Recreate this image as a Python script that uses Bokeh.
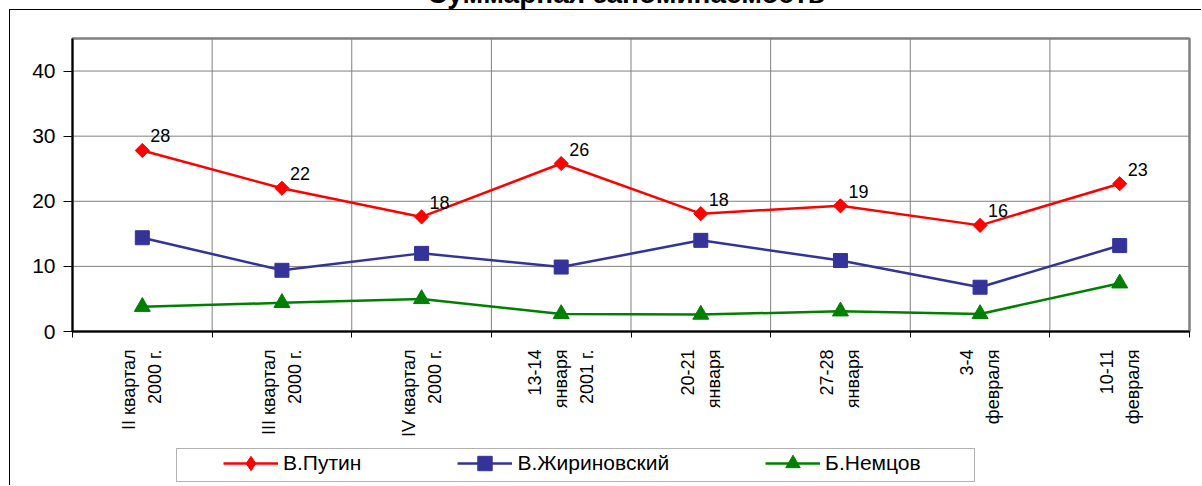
import math
from bokeh.plotting import figure
from bokeh.layouts import column
from bokeh.models import Range1d, FixedTicker, Legend, LegendItem, Div, BoxAnnotation
from bokeh.embed import file_html
from bokeh.resources import INLINE
from bokeh.core.properties import value

title = "Суммарная запоминаемость"
categories = ["II квартал\n2000 г.", "III квартал\n2000 г.", "IV квартал\n2000 г.",
              "13-14\nянваря\n2001 г.", "20-21\nянваря", "27-28\nянваря",
              "3-4\nфевраля", "10-11\nфевраля"]
series_names = ["В.Путин", "В.Жириновский", "Б.Немцов"]
putin = [27.8, 22.0, 17.6, 25.8, 18.1, 19.3, 16.3, 22.7]
zhirinovsky = [14.4, 9.4, 12.0, 9.9, 14.0, 10.9, 6.8, 13.2]
nemtsov = [3.8, 4.4, 5.0, 2.7, 2.6, 3.1, 2.7, 7.4]
y_ticks = [0, 10, 20, 30, 40]
Y_MAX = 45

FONT = "Liberation Sans"
n = len(categories)
xs = [i + 0.5 for i in range(n)]
bounds = list(range(n + 1))

# layout (canvas pixels)
CANVAS_W, CANVAS_H = 1192, 476
AREA_L, AREA_R, AREA_T, AREA_B = 62, 1179, 28, 321
PX_X = (AREA_R - AREA_L) / n
PX_Y = (AREA_B - AREA_T) / Y_MAX
x_range = Range1d(-AREA_L / PX_X, n + (CANVAS_W - AREA_R) / PX_X)
y_range = Range1d(-(CANVAS_H - AREA_B) / PX_Y, Y_MAX + AREA_T / PX_Y)

title_div = Div(
    text=('<div style="position:relative; top:-20px; left:25px; width:1202px; '
          'text-align:center; font-family:\'Liberation Sans\'; font-weight:bold; '
          'font-size:28px; line-height:28px; color:black; white-space:nowrap;">'
          + title + '</div>'),
    width=1202, height=9, styles={"margin": "0", "padding": "0"})

p = figure(width=CANVAS_W, height=CANVAS_H, x_range=x_range, y_range=y_range,
           output_backend="svg", toolbar_location=None,
           min_border_left=0, min_border_right=0, min_border_top=0, min_border_bottom=0)
p.styles = {"margin": "0 0 0 9px", "border-left": "1px solid black",
            "border-top": "1px solid black"}
p.background_fill_color = "white"
p.border_fill_color = "white"
p.outline_line_color = None
p.xgrid.visible = False
p.ygrid.visible = False

# plot area: border and grid lines
p.quad(left=[0], right=[n], bottom=[0], top=[Y_MAX], fill_color="white",
       line_color="#808080", line_width=2.5)
p.segment(x0=bounds, y0=[0] * len(bounds), x1=bounds, y1=[Y_MAX] * len(bounds),
          line_color="#808080", line_width=1)
p.segment(x0=[0] * len(y_ticks), y0=y_ticks, x1=[n] * len(y_ticks), y1=y_ticks,
          line_color="#808080", line_width=1)

# x axis
p.xaxis.fixed_location = 0
p.xaxis.bounds = (0, n)
p.xaxis.ticker = FixedTicker(ticks=xs, minor_ticks=bounds)
p.xaxis.major_label_overrides = {x: c for x, c in zip(xs, categories)}
p.xaxis.major_label_orientation = math.pi / 2
p.xaxis.major_tick_out = 0
p.xaxis.major_tick_in = 0
p.xaxis.minor_tick_out = 6
p.xaxis.minor_tick_in = 0
p.xaxis.minor_tick_line_color = "black"
p.xaxis.axis_line_width = 2
p.xaxis.axis_line_color = "black"
p.xaxis.major_label_text_font = FONT
p.xaxis.major_label_text_font_size = "18px"
p.xaxis.major_label_text_color = "black"
p.xaxis.major_label_text_line_height = 1.3
p.xaxis.major_label_standoff = 12

# y axis
p.yaxis.fixed_location = 0
p.yaxis.bounds = (0, Y_MAX)
p.yaxis.ticker = FixedTicker(ticks=y_ticks)
p.yaxis.major_tick_out = 9
p.yaxis.major_tick_in = 0
p.yaxis.minor_tick_line_color = None
p.yaxis.major_tick_line_color = "black"
p.yaxis.axis_line_width = 2
p.yaxis.axis_line_color = "black"
p.yaxis.major_label_text_font = FONT
p.yaxis.major_label_text_font_size = "21px"
p.yaxis.major_label_text_color = "black"
p.yaxis.major_label_standoff = 8

colors = ["#FF0000", "#333399", "#008000"]
markers = ["square", "square", "triangle"]
legend_markers = ["diamond", "square", "triangle"]
sizes = [10, 14, 16]
angles = [math.pi / 4, 0, 0]
series = [putin, zhirinovsky, nemtsov]

items = []
for name, vals, c, m, lm, s, a in zip(series_names, series, colors, markers,
                                       legend_markers, sizes, angles):
    rl = p.line(xs, vals, line_color=c, line_width=2.5)
    if lm != m:
        # diamond drawn underneath the rotated square (hidden by it); it gives the
        # legend its diamond symbol, since legends do not rotate markers
        rlm = p.scatter(xs, vals, marker=lm, size=12, fill_color=c, line_color=c,
                        line_width=1)
    rm = p.scatter(xs, vals, marker=m, size=s, angle=a, fill_color=c, line_color=c)
    items.append(LegendItem(label=name, renderers=[rl, rlm if lm != m else rm]))

# data labels for Putin
p.text(x=xs, y=putin, text=[str(round(v)) for v in putin], x_offset=8, y_offset=-8,
       text_baseline="bottom", text_align="left", text_font=value(FONT),
       text_font_size="18px", text_color="black")

# legend frame
p.add_layout(BoxAnnotation(left=165, right=963, top=437, bottom=470,
                           left_units="canvas", right_units="canvas",
                           top_units="canvas", bottom_units="canvas",
                           fill_color=None, line_color="black", line_width=1))

legend = Legend(items=items, orientation="horizontal", location=(213, 5),
                border_line_color=None, background_fill_alpha=0,
                padding=0, margin=0,
                glyph_width=55, glyph_height=36, label_standoff=5, spacing=96,
                label_text_font=FONT, label_text_font_size="21px", label_text_color="black")
p.add_layout(legend)

layout = column(title_div, p, spacing=0)
open("out.html", "w").write(file_html(layout, INLINE))
